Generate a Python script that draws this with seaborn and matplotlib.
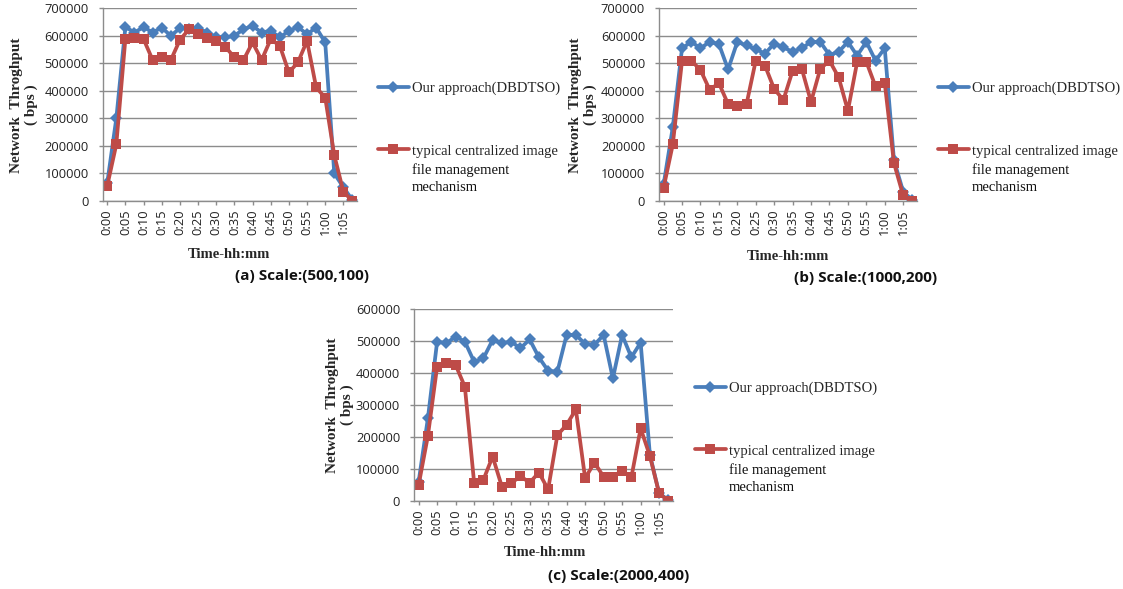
import numpy as np
import matplotlib
matplotlib.use("Agg")
import matplotlib.pyplot as plt
import seaborn as sns

sns.set_style("white")
plt.rcParams['font.family'] = ['Open Sans', 'DejaVu Sans']

W, H = 1123, 589

# categories: one point every 2.5 min, a label every 5 min
n_points = 28
tick_labels = ["0:00", "0:05", "0:10", "0:15", "0:20", "0:25", "0:30",
               "0:35", "0:40", "0:45", "0:50", "0:55", "1:00", "1:05"]

# (a) Scale:(500,100)
blue_a = [65000, 300000, 632000, 612000, 632000, 612000, 630000, 600000, 628000, 624000,
          628000, 612000, 596000, 594000, 600000, 624000, 636000, 612000, 618000, 594000,
          618000, 632000, 606000, 630000, 576000, 100000, 50000, 3000]
red_a = [55000, 206000, 590000, 592000, 588000, 512000, 522000, 512000, 585000, 624000,
         606000, 592000, 582000, 560000, 522000, 512000, 576000, 512000, 588000, 564000,
         467000, 504000, 582000, 413000, 375000, 166000, 34000, 0]

# (b) Scale:(1000,200)
blue_b = [60000, 269000, 555000, 578000, 555000, 578000, 570000, 478000, 578000, 565000,
          552000, 535000, 572000, 558000, 542000, 555000, 578000, 578000, 530000, 542000,
          578000, 528000, 578000, 510000, 555000, 148000, 34000, 3000]
red_b = [48000, 206000, 510000, 510000, 476000, 404000, 428000, 352000, 345000, 352000,
         510000, 492000, 407000, 367000, 473000, 480000, 360000, 480000, 510000, 449000,
         328000, 504000, 506000, 416000, 428000, 138000, 20000, 0]

# (c) Scale:(2000,400)
blue_c = [60000, 258000, 498000, 493000, 514000, 498000, 435000, 446000, 503000, 493000,
          498000, 477000, 505000, 449000, 407000, 404000, 519000, 519000, 491000, 488000,
          519000, 383000, 519000, 449000, 495000, 145000, 24000, 3000]
red_c = [50000, 203000, 420000, 432000, 425000, 357000, 57000, 66000, 139000, 45000,
         55000, 78000, 57000, 89000, 36000, 206000, 238000, 286000, 71000, 120000,
         76000, 76000, 95000, 74000, 227000, 141000, 24000, 0]

label_ours = "Our approach(DBDTSO)"
label_typ = "typical centralized image"
label_typ_rest = "file management\nmechanism"
ylabel_txt = "Network  Throghput\n( bps )"
xlabel_txt = "Time-hh:mm"

c_blue = "#4A7EBB"
c_red = "#BE4B48"
c_grid = "#8C8C8C"
serif = ['Liberation Serif', 'DejaVu Serif']

fig = plt.figure(figsize=(W / 100, H / 100), dpi=100)

panels = [
    dict(box=(102.7, 8.3, 357, 201), ymax=700000, blue=blue_a, red=red_a,
         caption="(a) Scale:(500,100)", ylab=(24, 105), xlab=(229, 255),
         cap=(369, 276), leg=(378, 88)),
    dict(box=(659, 8.3, 917, 201), ymax=700000, blue=blue_b, red=red_b,
         caption="(b) Scale:(1000,200)", ylab=(583, 105), xlab=(788, 257),
         cap=(937, 278), leg=(938, 88)),
    dict(box=(414, 309, 673, 501), ymax=600000, blue=blue_c, red=red_c,
         caption="(c) Scale:(2000,400)", ylab=(340, 405), xlab=(545, 553),
         cap=(689, 576), leg=(695, 388)),
]

legends = []
x = np.arange(n_points)
for p in panels:
    l, t, r, b = p['box']
    ax = fig.add_axes([l / W, 1 - b / H, (r - l) / W, (b - t) / H])

    def to_ax(px, py):
        return (px - l) / (r - l), (b - py) / (b - t)

    sns.lineplot(x=x, y=p['blue'], ax=ax, color=c_blue, lw=2.7, marker='D',
                 markersize=6, markeredgewidth=0, label=label_ours)
    sns.lineplot(x=x, y=p['red'], ax=ax, color=c_red, lw=2.7, marker='s',
                 markersize=7.5, markeredgewidth=0, label=label_typ)

    ax.set_xlim(-0.5, n_points - 0.5)
    ax.set_ylim(0, p['ymax'])
    ax.set_yticks(np.arange(0, p['ymax'] + 1, 100000))
    ax.yaxis.set_major_formatter(matplotlib.ticker.FuncFormatter(lambda v, pos: f"{int(v)}"))
    ax.set_xticks(np.arange(0, n_points, 2))
    ax.set_xticklabels(tick_labels, rotation=90)
    ax.tick_params(axis='both', labelsize=9.3, colors=c_grid, labelcolor='#222222',
                   length=3, width=1, direction='out', left=True, bottom=True)
    ax.tick_params(axis='y', pad=7)
    ax.tick_params(axis='x', pad=3)
    ax.grid(axis='y', color=c_grid, lw=1)
    ax.grid(axis='x', visible=False)
    for s in ['top', 'right']:
        ax.spines[s].set_visible(False)
    for s in ['left', 'bottom']:
        ax.spines[s].set_color(c_grid)
        ax.spines[s].set_linewidth(1)
    ax.set_axisbelow(True)

    ax.set_ylabel(ylabel_txt, family=serif, fontweight='bold', fontsize=11, linespacing=1.1)
    ax.yaxis.label.set_va('center')
    ax.yaxis.set_label_coords(*to_ax(*p['ylab']))
    ax.set_xlabel(xlabel_txt, family=serif, fontweight='bold', fontsize=10.5)
    ax.xaxis.label.set_va('center')
    ax.xaxis.set_label_coords(*to_ax(*p['xlab']))

    cx, cy = to_ax(*p['cap'])
    ax.text(cx, cy, p['caption'], transform=ax.transAxes, ha='right', va='center',
            fontsize=11, fontweight='bold', color='#111111')

    lx, ly = to_ax(p['leg'][0], p['leg'][1] - 6)
    leg = ax.legend(loc='upper left', bbox_to_anchor=(lx, ly), frameon=False,
                    prop={'family': serif, 'size': 10.5}, handlelength=2.1,
                    handletextpad=0.2, labelspacing=3.35, borderpad=0, borderaxespad=0)
    legends.append(leg)

fig.canvas.draw()
for leg in legends:
    ext = leg.get_texts()[1].get_window_extent()
    fig.text(ext.x0 / W, (ext.y0 - 6) / H, label_typ_rest, va='top', ha='left',
             family=serif, fontsize=10.5, linespacing=1.4, color='#111111')

fig.savefig("out.png", dpi=100)
